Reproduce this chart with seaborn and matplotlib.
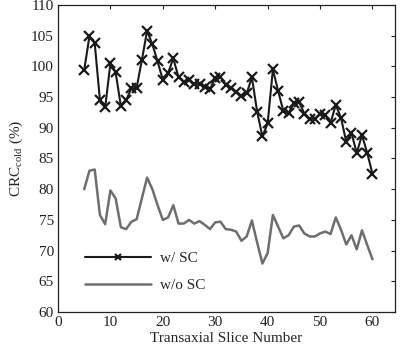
import numpy as np
import pandas as pd
import matplotlib
matplotlib.use("Agg")
import matplotlib.pyplot as plt
import seaborn as sns

slices = list(range(5, 61))
w_sc = [99.4, 104.9, 103.8, 94.5, 93.3, 100.5, 99.0, 93.5, 94.5, 96.4,
        96.5, 101.0, 105.8, 103.6, 100.8, 97.8, 98.9, 101.3, 98.2, 97.5,
        97.8, 97.1, 97.2, 96.7, 96.3, 98.1, 98.3, 97.0, 96.5, 95.9,
        95.2, 95.6, 98.2, 92.6, 88.6, 90.7, 99.5, 96.0, 92.7, 92.4,
        94.0, 94.2, 92.3, 91.4, 91.5, 92.2, 92.1, 90.8, 93.7, 91.6,
        87.7, 89.1, 85.9, 88.8, 85.9, 82.5]
wo_sc = [80.0, 83.0, 83.2, 75.8, 74.3, 79.8, 78.5, 73.8, 73.5, 74.7,
         75.1, 78.5, 81.9, 80.0, 77.4, 75.0, 75.4, 77.4, 74.4, 74.4,
         75.0, 74.4, 74.8, 74.2, 73.5, 74.6, 74.7, 73.5, 73.4, 73.1,
         71.6, 72.3, 74.9, 71.3, 67.9, 69.6, 75.8, 73.9, 72.0, 72.5,
         73.9, 74.1, 72.8, 72.3, 72.3, 72.8, 73.1, 72.7, 75.4, 73.4,
         71.0, 72.5, 70.2, 73.3, 70.9, 68.6]
series_names = ["w/ SC", "w/o SC"]
x_ticks = [0, 10, 20, 30, 40, 50, 60]
y_ticks = [60, 65, 70, 75, 80, 85, 90, 95, 100, 105, 110]

sns.set_style("white")
plt.rcParams['font.family'] = ['Liberation Serif', 'DejaVu Serif']
plt.rcParams['mathtext.fontset'] = 'custom'
plt.rcParams['mathtext.rm'] = 'Liberation Serif'
plt.rcParams['mathtext.it'] = 'Liberation Serif:italic'

fig = plt.figure(figsize=(4.0, 3.51), dpi=100)
ax = fig.add_axes([0.145, 0.111, 0.8425, 0.875])

df = pd.DataFrame({"x": slices, "w": w_sc, "wo": wo_sc})
sns.lineplot(data=df, x="x", y="w", ax=ax, color="#1a1a1a", lw=1.5,
             marker="x", markersize=6.5, markeredgewidth=1.6,
             markeredgecolor="#1a1a1a", label=series_names[0])
sns.lineplot(data=df, x="x", y="wo", ax=ax, color="#6e6e6e", lw=1.8,
             label=series_names[1])

ax.set_xlim(0, 64.3)
ax.set_ylim(60, 110)
ax.set_xticks(x_ticks)
ax.set_yticks(y_ticks)
ax.tick_params(direction="in", top=True, right=True, length=3,
               width=0.8, labelsize=11, colors="#222222", pad=3)
for s in ax.spines.values():
    s.set_linewidth(0.9)
    s.set_color("#222222")
ax.set_xlabel("Transaxial Slice Number", fontsize=11, labelpad=2)
ax.set_ylabel(r"CRC$_{\mathrm{cold}}$ (%)", fontsize=11, labelpad=4)

leg = ax.legend(loc="lower left", bbox_to_anchor=(0.04, 0.02), frameon=False,
                handlelength=4.3, fontsize=11, labelspacing=0.85,
                handletextpad=0.6, markerscale=0.7)

fig.savefig("out.png", dpi=100)
